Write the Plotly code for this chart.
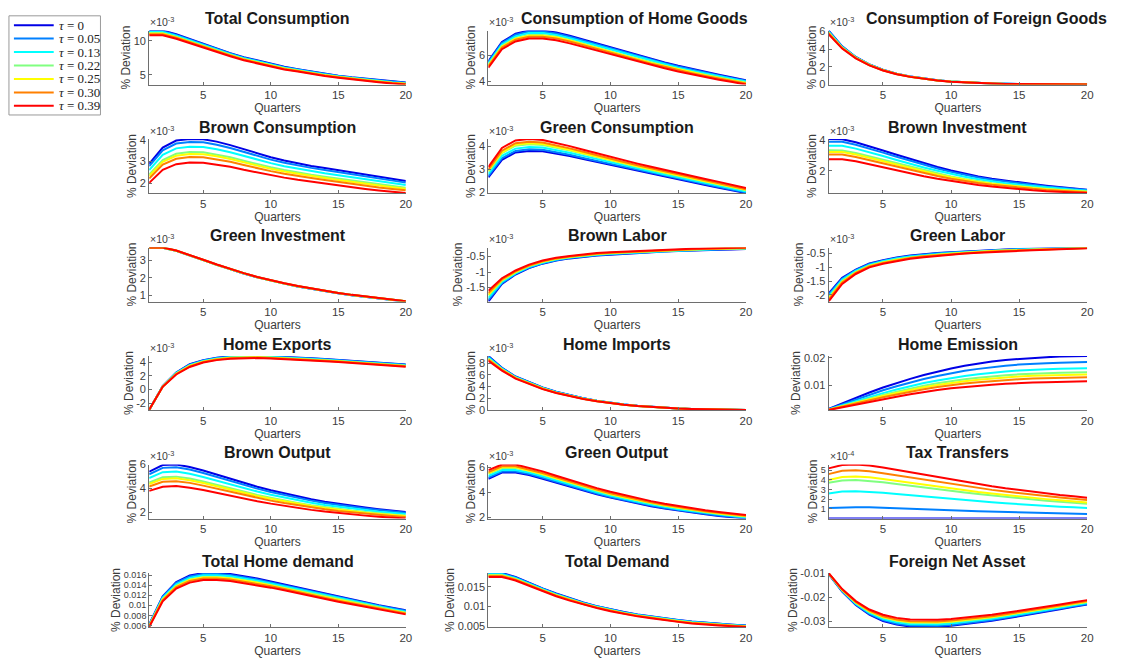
import plotly.graph_objects as go

QUARTERS = list(range(1, 21))
TAU = ["0", "0.05", "0.13", "0.22", "0.25", "0.30", "0.39"]
COLORS = ["#0000e6", "#0080ff", "#00ffff", "#80ff80", "#ffff00", "#ff8000", "#ff0000"]

# ---- data (display units; rows = tau 0 ... 0.39) ----
TOTAL_CONSUMPTION = [  # x1e-3
    [11.5, 11.5, 10.95, 10.25, 9.5, 8.8, 8.2, 7.6, 7.1, 6.6, 6.2, 5.85, 5.5, 5.2, 4.9, 4.65, 4.45, 4.25, 4.05, 3.9],
    [11.4, 11.4, 10.86, 10.17, 9.44, 8.74, 8.14, 7.54, 7.05, 6.55, 6.15, 5.8, 5.45, 5.15, 4.86, 4.61, 4.41, 4.21, 4.01, 3.86],
    [11.27, 11.27, 10.73, 10.05, 9.34, 8.64, 8.05, 7.45, 6.97, 6.47, 6.07, 5.73, 5.38, 5.08, 4.8, 4.55, 4.35, 4.15, 3.95, 3.8],
    [11.11, 11.11, 10.58, 9.91, 9.22, 8.52, 7.95, 7.35, 6.88, 6.38, 5.98, 5.65, 5.3, 5.0, 4.73, 4.48, 4.28, 4.08, 3.88, 3.73],
    [11.06, 11.06, 10.53, 9.86, 9.18, 8.48, 7.91, 7.31, 6.84, 6.34, 5.94, 5.63, 5.28, 4.98, 4.71, 4.46, 4.26, 4.06, 3.86, 3.71],
    [10.97, 10.97, 10.45, 9.79, 9.12, 8.42, 7.85, 7.25, 6.79, 6.29, 5.89, 5.58, 5.23, 4.93, 4.67, 4.42, 4.22, 4.02, 3.82, 3.67],
    [10.8, 10.8, 10.3, 9.65, 9.0, 8.3, 7.75, 7.15, 6.7, 6.2, 5.8, 5.5, 5.15, 4.85, 4.6, 4.35, 4.15, 3.95, 3.75, 3.6],
]
CONS_HOME_GOODS = [  # x1e-3
    [5.55, 7.05, 7.7, 7.95, 7.95, 7.8, 7.55, 7.25, 6.95, 6.62, 6.32, 6.02, 5.74, 5.47, 5.2, 4.95, 4.72, 4.5, 4.29, 4.08],
    [5.49, 6.98, 7.62, 7.87, 7.87, 7.72, 7.47, 7.17, 6.88, 6.55, 6.25, 5.96, 5.68, 5.41, 5.14, 4.9, 4.67, 4.45, 4.24, 4.04],
    [5.39, 6.87, 7.5, 7.75, 7.75, 7.6, 7.35, 7.06, 6.77, 6.44, 6.15, 5.86, 5.58, 5.32, 5.05, 4.81, 4.59, 4.37, 4.17, 3.97],
    [5.27, 6.74, 7.36, 7.6, 7.6, 7.46, 7.21, 6.93, 6.64, 6.32, 6.03, 5.74, 5.47, 5.21, 4.95, 4.71, 4.5, 4.29, 4.09, 3.89],
    [5.23, 6.7, 7.32, 7.55, 7.55, 7.42, 7.17, 6.88, 6.59, 6.27, 5.99, 5.7, 5.43, 5.18, 4.92, 4.68, 4.46, 4.26, 4.06, 3.86],
    [5.17, 6.63, 7.24, 7.47, 7.47, 7.34, 7.09, 6.8, 6.52, 6.21, 5.92, 5.64, 5.37, 5.12, 4.86, 4.63, 4.41, 4.21, 4.01, 3.82],
    [5.05, 6.5, 7.1, 7.33, 7.33, 7.2, 6.95, 6.67, 6.39, 6.08, 5.8, 5.52, 5.26, 5.01, 4.76, 4.53, 4.32, 4.12, 3.93, 3.74],
]
CONS_FOREIGN_GOODS = [  # x1e-3
    [6.1, 4.3, 3.1, 2.25, 1.65, 1.2, 0.88, 0.63, 0.45, 0.32, 0.22, 0.15, 0.09, 0.05, 0.02, 0.0, -0.01, -0.02, -0.03, -0.03],
    [6.05, 4.27, 3.08, 2.24, 1.64, 1.19, 0.87, 0.63, 0.45, 0.32, 0.22, 0.15, 0.09, 0.05, 0.02, 0.0, -0.01, -0.02, -0.03, -0.03],
    [5.97, 4.22, 3.05, 2.22, 1.62, 1.18, 0.87, 0.62, 0.44, 0.31, 0.21, 0.14, 0.09, 0.05, 0.02, 0.0, -0.01, -0.02, -0.03, -0.03],
    [5.88, 4.16, 3.02, 2.19, 1.61, 1.17, 0.86, 0.61, 0.44, 0.31, 0.21, 0.14, 0.08, 0.04, 0.02, 0.0, -0.01, -0.02, -0.02, -0.03],
    [5.84, 4.14, 3.0, 2.19, 1.6, 1.17, 0.85, 0.61, 0.44, 0.31, 0.21, 0.14, 0.08, 0.04, 0.02, 0.0, -0.01, -0.02, -0.02, -0.03],
    [5.79, 4.11, 2.98, 2.17, 1.59, 1.16, 0.85, 0.61, 0.43, 0.3, 0.2, 0.13, 0.08, 0.04, 0.02, 0.0, -0.01, -0.02, -0.02, -0.03],
    [5.7, 4.05, 2.95, 2.15, 1.57, 1.15, 0.84, 0.6, 0.43, 0.3, 0.2, 0.13, 0.08, 0.04, 0.02, 0.0, -0.01, -0.02, -0.02, -0.03],
]
BROWN_CONSUMPTION = [  # x1e-3
    [2.9, 3.65, 3.97, 4.04, 4.03, 3.92, 3.76, 3.57, 3.38, 3.2, 3.05, 2.92, 2.8, 2.7, 2.6, 2.5, 2.4, 2.3, 2.2, 2.1],
    [2.79, 3.52, 3.83, 3.9, 3.89, 3.78, 3.63, 3.45, 3.26, 3.09, 2.95, 2.82, 2.71, 2.61, 2.51, 2.41, 2.31, 2.22, 2.12, 2.03],
    [2.61, 3.31, 3.61, 3.68, 3.67, 3.57, 3.43, 3.26, 3.09, 2.93, 2.79, 2.67, 2.56, 2.46, 2.37, 2.28, 2.18, 2.09, 2.0, 1.92],
    [2.41, 3.07, 3.36, 3.44, 3.43, 3.33, 3.2, 3.04, 2.88, 2.74, 2.61, 2.49, 2.39, 2.3, 2.21, 2.12, 2.03, 1.95, 1.86, 1.79],
    [2.34, 2.99, 3.27, 3.35, 3.34, 3.25, 3.12, 2.96, 2.81, 2.67, 2.54, 2.43, 2.33, 2.24, 2.15, 2.06, 1.98, 1.9, 1.82, 1.75],
    [2.22, 2.86, 3.13, 3.21, 3.2, 3.11, 2.99, 2.84, 2.69, 2.56, 2.44, 2.33, 2.24, 2.15, 2.06, 1.98, 1.89, 1.81, 1.74, 1.68],
    [2.02, 2.62, 2.88, 2.96, 2.95, 2.87, 2.76, 2.62, 2.49, 2.37, 2.26, 2.16, 2.07, 1.98, 1.9, 1.82, 1.74, 1.67, 1.6, 1.55],
]
GREEN_CONSUMPTION = [  # x1e-3
    [2.65, 3.42, 3.74, 3.81, 3.79, 3.7, 3.58, 3.45, 3.32, 3.19, 3.06, 2.93, 2.8, 2.67, 2.55, 2.43, 2.31, 2.19, 2.07, 1.96],
    [2.71, 3.49, 3.81, 3.88, 3.86, 3.76, 3.64, 3.5, 3.37, 3.24, 3.1, 2.97, 2.84, 2.71, 2.59, 2.47, 2.35, 2.22, 2.1, 1.99],
    [2.8, 3.59, 3.91, 3.98, 3.96, 3.86, 3.73, 3.59, 3.45, 3.31, 3.17, 3.04, 2.9, 2.77, 2.65, 2.52, 2.4, 2.28, 2.15, 2.03],
    [2.9, 3.71, 4.04, 4.1, 4.07, 3.96, 3.83, 3.68, 3.53, 3.39, 3.25, 3.11, 2.97, 2.84, 2.71, 2.59, 2.46, 2.34, 2.2, 2.08],
    [2.94, 3.75, 4.08, 4.14, 4.11, 4.0, 3.86, 3.71, 3.56, 3.42, 3.28, 3.13, 3.0, 2.86, 2.74, 2.61, 2.48, 2.36, 2.22, 2.1],
    [3.0, 3.82, 4.15, 4.21, 4.18, 4.06, 3.92, 3.77, 3.61, 3.47, 3.32, 3.18, 3.04, 2.9, 2.77, 2.65, 2.52, 2.39, 2.25, 2.13],
    [3.1, 3.94, 4.27, 4.33, 4.29, 4.17, 4.02, 3.86, 3.7, 3.55, 3.4, 3.25, 3.11, 2.97, 2.84, 2.71, 2.58, 2.45, 2.31, 2.18],
]
BROWN_INVESTMENT = [  # x1e-3
    [4.06, 4.05, 3.85, 3.6, 3.32, 3.04, 2.76, 2.5, 2.25, 2.02, 1.82, 1.64, 1.49, 1.36, 1.25, 1.14, 1.04, 0.95, 0.86, 0.78],
    [3.89, 3.88, 3.69, 3.45, 3.18, 2.91, 2.64, 2.39, 2.15, 1.93, 1.74, 1.57, 1.42, 1.3, 1.19, 1.09, 0.99, 0.91, 0.82, 0.75],
    [3.63, 3.62, 3.44, 3.21, 2.96, 2.7, 2.45, 2.22, 2.0, 1.79, 1.62, 1.46, 1.32, 1.2, 1.1, 1.01, 0.92, 0.84, 0.77, 0.71],
    [3.33, 3.32, 3.16, 2.94, 2.7, 2.47, 2.24, 2.02, 1.82, 1.63, 1.47, 1.33, 1.2, 1.1, 1.0, 0.92, 0.84, 0.77, 0.71, 0.66],
    [3.22, 3.22, 3.06, 2.84, 2.62, 2.39, 2.16, 1.96, 1.76, 1.58, 1.42, 1.28, 1.16, 1.06, 0.97, 0.88, 0.81, 0.75, 0.69, 0.64],
    [3.05, 3.05, 2.9, 2.69, 2.47, 2.25, 2.04, 1.85, 1.66, 1.49, 1.34, 1.21, 1.1, 1.0, 0.91, 0.83, 0.76, 0.7, 0.65, 0.61],
    [2.75, 2.75, 2.62, 2.42, 2.22, 2.02, 1.83, 1.65, 1.48, 1.33, 1.2, 1.08, 0.98, 0.89, 0.81, 0.74, 0.68, 0.63, 0.59, 0.56],
]
GREEN_INVESTMENT = [  # x1e-3
    [3.71, 3.71, 3.54, 3.29, 3.01, 2.74, 2.48, 2.25, 2.03, 1.84, 1.67, 1.51, 1.37, 1.25, 1.12, 1.01, 0.91, 0.82, 0.73, 0.65],
    [3.71, 3.71, 3.54, 3.29, 3.01, 2.74, 2.48, 2.25, 2.03, 1.84, 1.67, 1.51, 1.37, 1.25, 1.12, 1.01, 0.91, 0.82, 0.73, 0.65],
    [3.72, 3.72, 3.55, 3.3, 3.02, 2.75, 2.49, 2.26, 2.04, 1.85, 1.68, 1.52, 1.38, 1.26, 1.13, 1.02, 0.92, 0.83, 0.74, 0.66],
    [3.72, 3.72, 3.55, 3.3, 3.02, 2.75, 2.49, 2.26, 2.04, 1.85, 1.68, 1.52, 1.38, 1.26, 1.13, 1.02, 0.92, 0.83, 0.74, 0.66],
    [3.72, 3.72, 3.55, 3.3, 3.02, 2.75, 2.49, 2.26, 2.04, 1.85, 1.68, 1.52, 1.38, 1.26, 1.13, 1.02, 0.92, 0.83, 0.74, 0.66],
    [3.73, 3.73, 3.56, 3.31, 3.03, 2.76, 2.5, 2.27, 2.05, 1.86, 1.69, 1.53, 1.39, 1.27, 1.14, 1.03, 0.93, 0.84, 0.75, 0.67],
    [3.73, 3.73, 3.56, 3.31, 3.03, 2.76, 2.5, 2.27, 2.05, 1.86, 1.69, 1.53, 1.39, 1.27, 1.14, 1.03, 0.93, 0.84, 0.75, 0.67],
]
BROWN_LABOR = [  # x1e-3
    [-1.95, -1.38, -1.08, -0.87, -0.73, -0.63, -0.56, -0.51, -0.47, -0.44, -0.41, -0.38, -0.36, -0.34, -0.32, -0.3, -0.29, -0.28, -0.27, -0.26],
    [-1.9, -1.36, -1.06, -0.86, -0.72, -0.62, -0.55, -0.5, -0.46, -0.43, -0.4, -0.37, -0.35, -0.33, -0.31, -0.29, -0.28, -0.27, -0.26, -0.25],
    [-1.83, -1.32, -1.04, -0.83, -0.7, -0.6, -0.53, -0.48, -0.44, -0.41, -0.39, -0.36, -0.34, -0.32, -0.3, -0.28, -0.27, -0.26, -0.25, -0.24],
    [-1.75, -1.28, -1.01, -0.81, -0.67, -0.58, -0.52, -0.47, -0.43, -0.4, -0.37, -0.34, -0.32, -0.3, -0.29, -0.27, -0.26, -0.25, -0.24, -0.23],
    [-1.73, -1.26, -1.0, -0.8, -0.67, -0.57, -0.51, -0.46, -0.42, -0.39, -0.37, -0.34, -0.32, -0.3, -0.28, -0.27, -0.26, -0.25, -0.24, -0.23],
    [-1.68, -1.24, -0.98, -0.79, -0.65, -0.56, -0.5, -0.45, -0.41, -0.38, -0.36, -0.33, -0.31, -0.29, -0.27, -0.26, -0.25, -0.24, -0.23, -0.22],
    [-1.6, -1.2, -0.95, -0.76, -0.63, -0.54, -0.48, -0.43, -0.39, -0.36, -0.34, -0.31, -0.29, -0.27, -0.26, -0.25, -0.24, -0.23, -0.22, -0.21],
]
GREEN_LABOR = [  # x1e-3
    [-1.95, -1.38, -1.08, -0.86, -0.74, -0.64, -0.57, -0.52, -0.48, -0.45, -0.42, -0.39, -0.37, -0.35, -0.33, -0.32, -0.31, -0.3, -0.29, -0.28],
    [-1.99, -1.41, -1.1, -0.88, -0.76, -0.66, -0.59, -0.53, -0.49, -0.46, -0.43, -0.4, -0.38, -0.36, -0.34, -0.33, -0.32, -0.31, -0.29, -0.28],
    [-2.05, -1.45, -1.13, -0.91, -0.78, -0.68, -0.61, -0.56, -0.51, -0.48, -0.45, -0.42, -0.39, -0.37, -0.35, -0.34, -0.33, -0.31, -0.3, -0.29],
    [-2.11, -1.5, -1.17, -0.94, -0.81, -0.71, -0.64, -0.58, -0.54, -0.5, -0.46, -0.43, -0.41, -0.39, -0.37, -0.35, -0.34, -0.32, -0.31, -0.3],
    [-2.14, -1.52, -1.18, -0.95, -0.82, -0.72, -0.65, -0.59, -0.54, -0.51, -0.47, -0.44, -0.41, -0.39, -0.37, -0.36, -0.34, -0.33, -0.31, -0.3],
    [-2.17, -1.55, -1.2, -0.97, -0.84, -0.74, -0.66, -0.6, -0.56, -0.52, -0.48, -0.45, -0.42, -0.4, -0.38, -0.37, -0.35, -0.33, -0.31, -0.3],
    [-2.24, -1.6, -1.24, -1.0, -0.87, -0.77, -0.69, -0.63, -0.58, -0.54, -0.5, -0.47, -0.44, -0.42, -0.4, -0.38, -0.36, -0.34, -0.32, -0.31],
]
HOME_EXPORTS = [  # x1e-3
    [-3.0, 0.5, 2.5, 3.7, 4.3, 4.65, 4.85, 4.9, 4.9, 4.85, 4.78, 4.68, 4.57, 4.45, 4.33, 4.2, 4.07, 3.93, 3.8, 3.65],
    [-2.99, 0.49, 2.46, 3.65, 4.25, 4.6, 4.8, 4.86, 4.86, 4.81, 4.74, 4.64, 4.53, 4.41, 4.29, 4.16, 4.03, 3.89, 3.76, 3.61],
    [-2.98, 0.47, 2.4, 3.57, 4.18, 4.53, 4.73, 4.8, 4.8, 4.75, 4.68, 4.58, 4.47, 4.35, 4.23, 4.1, 3.97, 3.83, 3.69, 3.54],
    [-2.97, 0.44, 2.33, 3.48, 4.1, 4.45, 4.65, 4.73, 4.73, 4.68, 4.61, 4.51, 4.4, 4.28, 4.16, 4.03, 3.9, 3.76, 3.62, 3.47],
    [-2.97, 0.44, 2.31, 3.44, 4.08, 4.43, 4.63, 4.71, 4.71, 4.66, 4.58, 4.48, 4.37, 4.25, 4.13, 4.0, 3.87, 3.73, 3.6, 3.45],
    [-2.96, 0.42, 2.27, 3.39, 4.03, 4.38, 4.58, 4.67, 4.67, 4.62, 4.54, 4.44, 4.33, 4.21, 4.09, 3.96, 3.83, 3.69, 3.55, 3.4],
    [-2.95, 0.4, 2.2, 3.3, 3.95, 4.3, 4.5, 4.6, 4.6, 4.55, 4.47, 4.37, 4.26, 4.14, 4.02, 3.89, 3.76, 3.62, 3.48, 3.33],
]
HOME_IMPORTS = [  # x1e-3
    [9.2, 7.2, 5.7, 4.75, 3.85, 3.1, 2.5, 2.0, 1.58, 1.22, 0.94, 0.71, 0.53, 0.38, 0.27, 0.18, 0.11, 0.06, 0.02, 0.0],
    [9.1, 7.14, 5.66, 4.7, 3.81, 3.07, 2.48, 1.98, 1.57, 1.21, 0.93, 0.7, 0.52, 0.38, 0.27, 0.18, 0.11, 0.06, 0.02, 0.0],
    [8.94, 7.04, 5.58, 4.63, 3.75, 3.03, 2.44, 1.95, 1.54, 1.19, 0.92, 0.69, 0.52, 0.37, 0.26, 0.17, 0.11, 0.06, 0.02, 0.0],
    [8.75, 6.92, 5.5, 4.55, 3.68, 2.98, 2.4, 1.92, 1.52, 1.18, 0.9, 0.68, 0.51, 0.36, 0.25, 0.17, 0.1, 0.05, 0.02, 0.0],
    [8.69, 6.88, 5.48, 4.53, 3.66, 2.96, 2.38, 1.91, 1.51, 1.17, 0.9, 0.68, 0.5, 0.36, 0.25, 0.17, 0.1, 0.05, 0.02, -0.01],
    [8.58, 6.82, 5.43, 4.48, 3.62, 2.93, 2.36, 1.89, 1.49, 1.16, 0.89, 0.67, 0.5, 0.36, 0.25, 0.16, 0.1, 0.05, 0.02, -0.01],
    [8.4, 6.7, 5.35, 4.4, 3.55, 2.88, 2.32, 1.86, 1.47, 1.14, 0.87, 0.66, 0.49, 0.35, 0.24, 0.16, 0.1, 0.05, 0.02, -0.01],
]
HOME_EMISSION = [  # in units of 1e-3 (axis shows plain values)
    [1.6, 3.6, 5.6, 7.5, 9.3, 10.9, 12.4, 13.8, 15.0, 16.1, 17.1, 17.9, 18.6, 19.2, 19.6, 20.0, 20.2, 20.4, 20.5, 20.6],
    [1.5, 3.26, 5.02, 6.71, 8.29, 9.72, 11.08, 12.34, 13.42, 14.4, 15.28, 15.98, 16.61, 17.14, 17.51, 17.86, 18.04, 18.22, 18.32, 18.42],
    [1.41, 2.93, 4.45, 5.92, 7.28, 8.55, 9.76, 10.87, 11.83, 12.69, 13.45, 14.06, 14.62, 15.07, 15.42, 15.73, 15.88, 16.03, 16.13, 16.23],
    [1.34, 2.7, 4.06, 5.39, 6.61, 7.76, 8.88, 9.9, 10.78, 11.56, 12.24, 12.78, 13.29, 13.7, 14.03, 14.3, 14.44, 14.58, 14.68, 14.78],
    [1.31, 2.58, 3.85, 5.09, 6.23, 7.32, 8.39, 9.35, 10.18, 10.92, 11.55, 12.06, 12.54, 12.92, 13.25, 13.5, 13.63, 13.76, 13.86, 13.96],
    [1.26, 2.42, 3.58, 4.73, 5.77, 6.78, 7.78, 8.68, 9.46, 10.14, 10.72, 11.18, 11.63, 11.98, 12.29, 12.52, 12.64, 12.76, 12.86, 12.96],
    [1.2, 2.2, 3.2, 4.2, 5.1, 6.0, 6.9, 7.7, 8.4, 9.0, 9.5, 9.9, 10.3, 10.6, 10.9, 11.1, 11.2, 11.3, 11.4, 11.5],
]
BROWN_OUTPUT = [  # x1e-3
    [5.4, 5.95, 6.0, 5.8, 5.5, 5.15, 4.8, 4.47, 4.15, 3.85, 3.58, 3.33, 3.1, 2.9, 2.72, 2.56, 2.42, 2.28, 2.16, 2.05],
    [5.19, 5.72, 5.77, 5.58, 5.29, 4.95, 4.62, 4.3, 3.99, 3.71, 3.45, 3.21, 2.99, 2.79, 2.62, 2.47, 2.33, 2.2, 2.08, 1.98],
    [4.87, 5.36, 5.41, 5.23, 4.96, 4.65, 4.33, 4.04, 3.75, 3.48, 3.24, 3.02, 2.81, 2.63, 2.47, 2.32, 2.2, 2.07, 1.97, 1.87],
    [4.5, 4.94, 4.99, 4.83, 4.59, 4.3, 4.01, 3.74, 3.47, 3.23, 3.0, 2.8, 2.61, 2.44, 2.29, 2.16, 2.04, 1.93, 1.83, 1.74],
    [4.38, 4.8, 4.85, 4.69, 4.46, 4.18, 3.9, 3.63, 3.38, 3.14, 2.92, 2.72, 2.54, 2.38, 2.23, 2.1, 1.98, 1.88, 1.78, 1.7],
    [4.17, 4.56, 4.61, 4.47, 4.24, 3.98, 3.71, 3.46, 3.22, 2.99, 2.79, 2.6, 2.42, 2.27, 2.13, 2.01, 1.9, 1.79, 1.71, 1.63],
    [3.8, 4.15, 4.2, 4.07, 3.87, 3.63, 3.39, 3.16, 2.94, 2.74, 2.55, 2.38, 2.22, 2.08, 1.95, 1.84, 1.74, 1.65, 1.57, 1.5],
]
GREEN_OUTPUT = [  # x1e-3
    [5.1, 5.6, 5.6, 5.4, 5.1, 4.78, 4.46, 4.15, 3.86, 3.58, 3.33, 3.1, 2.89, 2.7, 2.53, 2.38, 2.24, 2.11, 2.0, 1.9],
    [5.19, 5.68, 5.68, 5.48, 5.18, 4.85, 4.53, 4.22, 3.92, 3.64, 3.39, 3.16, 2.94, 2.75, 2.58, 2.43, 2.28, 2.15, 2.04, 1.94],
    [5.33, 5.81, 5.81, 5.6, 5.3, 4.97, 4.64, 4.32, 4.02, 3.74, 3.48, 3.24, 3.03, 2.83, 2.65, 2.5, 2.35, 2.22, 2.1, 1.99],
    [5.49, 5.96, 5.96, 5.74, 5.44, 5.1, 4.76, 4.44, 4.13, 3.84, 3.58, 3.34, 3.12, 2.92, 2.74, 2.58, 2.42, 2.29, 2.17, 2.06],
    [5.55, 6.02, 6.02, 5.78, 5.48, 5.14, 4.81, 4.48, 4.17, 3.88, 3.62, 3.38, 3.15, 2.95, 2.77, 2.6, 2.45, 2.31, 2.19, 2.08],
    [5.64, 6.1, 6.1, 5.86, 5.56, 5.22, 4.88, 4.55, 4.24, 3.94, 3.68, 3.43, 3.21, 3.0, 2.81, 2.65, 2.49, 2.36, 2.23, 2.12],
    [5.8, 6.25, 6.25, 6.0, 5.7, 5.35, 5.0, 4.67, 4.35, 4.05, 3.78, 3.53, 3.3, 3.09, 2.9, 2.73, 2.57, 2.43, 2.3, 2.18],
]
TAX_TRANSFERS = [  # x1e-4
    [0.0] * 20,
    [1.1, 1.17, 1.18, 1.16, 1.12, 1.07, 1.01, 0.96, 0.9, 0.85, 0.8, 0.75, 0.71, 0.66, 0.62, 0.59, 0.55, 0.52, 0.49, 0.46],
    [2.6, 2.8, 2.83, 2.78, 2.67, 2.54, 2.41, 2.28, 2.15, 2.02, 1.9, 1.79, 1.68, 1.58, 1.48, 1.39, 1.31, 1.23, 1.16, 1.09],
    [3.7, 3.95, 4.0, 3.92, 3.77, 3.59, 3.4, 3.21, 3.03, 2.86, 2.69, 2.53, 2.38, 2.24, 2.1, 1.97, 1.85, 1.74, 1.64, 1.54],
    [4.0, 4.3, 4.35, 4.27, 4.1, 3.9, 3.7, 3.5, 3.3, 3.11, 2.93, 2.75, 2.59, 2.43, 2.28, 2.14, 2.01, 1.89, 1.78, 1.67],
    [4.6, 4.95, 5.0, 4.9, 4.7, 4.48, 4.25, 4.02, 3.79, 3.57, 3.36, 3.16, 2.97, 2.79, 2.62, 2.46, 2.31, 2.17, 2.04, 1.92],
    [5.2, 5.55, 5.6, 5.5, 5.3, 5.05, 4.8, 4.55, 4.3, 4.05, 3.8, 3.57, 3.35, 3.14, 2.95, 2.77, 2.6, 2.44, 2.3, 2.15],
]
TOTAL_HOME_DEMAND = [  # in units of 1e-3 (axis shows plain values)
    [6.2, 11.8, 14.6, 15.9, 16.4, 16.4, 16.2, 15.8, 15.3, 14.7, 14.1, 13.5, 12.9, 12.3, 11.7, 11.1, 10.5, 10.0, 9.5, 9.0],
    [6.14, 11.67, 14.43, 15.72, 16.22, 16.22, 16.02, 15.62, 15.13, 14.54, 13.96, 13.36, 12.76, 12.17, 11.57, 10.98, 10.4, 9.9, 9.4, 8.9],
    [6.04, 11.47, 14.17, 15.44, 15.94, 15.94, 15.74, 15.34, 14.87, 14.3, 13.74, 13.14, 12.54, 11.97, 11.37, 10.8, 10.24, 9.74, 9.24, 8.74],
    [5.92, 11.24, 13.87, 15.12, 15.62, 15.62, 15.42, 15.02, 14.57, 14.03, 13.48, 12.88, 12.28, 11.74, 11.14, 10.6, 10.05, 9.55, 9.05, 8.55],
    [5.88, 11.16, 13.77, 15.0, 15.5, 15.5, 15.3, 14.9, 14.47, 13.93, 13.4, 12.8, 12.2, 11.66, 11.06, 10.52, 9.99, 9.49, 8.99, 8.49],
    [5.82, 11.03, 13.6, 14.82, 15.32, 15.32, 15.12, 14.72, 14.3, 13.78, 13.25, 12.65, 12.05, 11.53, 10.93, 10.41, 9.88, 9.38, 8.88, 8.38],
    [5.7, 10.8, 13.3, 14.5, 15.0, 15.0, 14.8, 14.4, 14.0, 13.5, 13.0, 12.4, 11.8, 11.3, 10.7, 10.2, 9.7, 9.2, 8.7, 8.2],
]
TOTAL_DEMAND = [  # in units of 1e-3 (axis shows plain values)
    [18.5, 18.5, 17.5, 16.0, 14.6, 13.3, 12.1, 11.0, 10.1, 9.3, 8.6, 8.0, 7.5, 7.0, 6.6, 6.2, 5.9, 5.6, 5.4, 5.2],
    [18.37, 18.37, 17.38, 15.9, 14.51, 13.21, 12.02, 10.94, 10.04, 9.24, 8.54, 7.94, 7.44, 6.94, 6.54, 6.14, 5.84, 5.55, 5.35, 5.15],
    [18.17, 18.17, 17.2, 15.74, 14.37, 13.07, 11.9, 10.84, 9.94, 9.14, 8.44, 7.84, 7.34, 6.84, 6.44, 6.04, 5.74, 5.47, 5.27, 5.07],
    [17.94, 17.94, 17.0, 15.55, 14.21, 12.91, 11.76, 10.72, 9.82, 9.02, 8.32, 7.72, 7.22, 6.72, 6.32, 5.92, 5.62, 5.38, 5.18, 4.98],
    [17.86, 17.86, 16.92, 15.49, 14.15, 12.85, 11.72, 10.68, 9.78, 8.98, 8.28, 7.68, 7.18, 6.68, 6.28, 5.88, 5.58, 5.34, 5.14, 4.94],
    [17.73, 17.73, 16.81, 15.38, 14.06, 12.76, 11.64, 10.62, 9.72, 8.92, 8.22, 7.62, 7.12, 6.62, 6.22, 5.82, 5.52, 5.29, 5.09, 4.89],
    [17.5, 17.5, 16.6, 15.2, 13.9, 12.6, 11.5, 10.5, 9.6, 8.8, 8.1, 7.5, 7.0, 6.5, 6.1, 5.7, 5.4, 5.2, 5.0, 4.8],
]
FOREIGN_NET_ASSET = [  # in units of 1e-3 (axis shows plain values)
    [-10.2, -17.5, -23.1, -27.1, -29.8, -31.3, -32.1, -32.3, -32.2, -31.8, -31.2, -30.5, -29.7, -28.8, -27.9, -26.9, -25.9, -24.9, -23.9, -22.9],
    [-10.15, -17.37, -22.89, -26.83, -29.46, -30.94, -31.72, -31.92, -31.82, -31.44, -30.85, -30.16, -29.38, -28.49, -27.6, -26.61, -25.63, -24.64, -23.65, -22.67],
    [-10.07, -17.17, -22.57, -26.41, -28.94, -30.38, -31.14, -31.34, -31.24, -30.88, -30.31, -29.64, -28.88, -28.01, -27.14, -26.17, -25.21, -24.24, -23.27, -22.31],
    [-9.98, -16.94, -22.2, -25.92, -28.34, -29.73, -30.48, -30.68, -30.58, -30.23, -29.69, -29.04, -28.3, -27.46, -26.61, -25.67, -24.72, -23.78, -22.84, -21.89],
    [-9.94, -16.86, -22.08, -25.76, -28.14, -29.51, -30.24, -30.44, -30.34, -30.01, -29.47, -28.84, -28.1, -27.26, -26.43, -25.49, -24.56, -23.62, -22.68, -21.75],
    [-9.89, -16.73, -21.87, -25.48, -27.8, -29.14, -29.87, -30.07, -29.97, -29.64, -29.12, -28.5, -27.78, -26.95, -26.13, -25.21, -24.28, -23.36, -22.44, -21.51],
    [-9.8, -16.5, -21.5, -25.0, -27.2, -28.5, -29.2, -29.4, -29.3, -29.0, -28.5, -27.9, -27.2, -26.4, -25.6, -24.7, -23.8, -22.9, -22.0, -21.1],
]

TITLES = ["Total Consumption", "Consumption of Home Goods", "Consumption of Foreign Goods",
          "Brown Consumption", "Green Consumption", "Brown Investment",
          "Green Investment", "Brown Labor", "Green Labor",
          "Home Exports", "Home Imports", "Home Emission",
          "Brown Output", "Green Output", "Tax Transfers",
          "Total Home demand", "Total Demand", "Foreign Net Asset"]
SERIES = [TOTAL_CONSUMPTION, CONS_HOME_GOODS, CONS_FOREIGN_GOODS,
          BROWN_CONSUMPTION, GREEN_CONSUMPTION, BROWN_INVESTMENT,
          GREEN_INVESTMENT, BROWN_LABOR, GREEN_LABOR,
          HOME_EXPORTS, HOME_IMPORTS, HOME_EMISSION,
          BROWN_OUTPUT, GREEN_OUTPUT, TAX_TRANSFERS,
          TOTAL_HOME_DEMAND, TOTAL_DEMAND, FOREIGN_NET_ASSET]
# axis multiplier label shown (None -> values are plotted in real units, stored x1e-3)
EXPONENTS = ["-3", "-3", "-3", "-3", "-3", "-3", "-3", "-3", "-3", "-3", "-3", None,
             "-3", "-3", "-4", None, None, None]
Y_TICKS = [[5, 10], [4, 6], [0, 2, 4, 6], [2, 3, 4], [2, 3, 4], [2, 4], [1, 2, 3],
           [-1.5, -1, -0.5], [-2, -1.5, -1, -0.5], [-2, 0, 2, 4], [0, 2, 4, 6, 8], [0.01, 0.02],
           [2, 4, 6], [2, 4, 6], [1, 2, 3, 4, 5],
           [0.006, 0.008, 0.01, 0.012, 0.014, 0.016], [0.005, 0.01, 0.015], [-0.03, -0.02, -0.01]]

# ---- layout geometry (pixels) ----
W, H = 1123, 660
COL_X = [(150, 408), (491, 750), (833, 1093)]
ROW_TOP = [25, 135.5, 246, 356.5, 467, 577.5]
AX_H = 55
TITLE_SHIFT = {1: 17, 2: 29}   # titles pushed right of the exponent label
SMALL_TICKS = {14: 9, 15: 9}   # densely ticked axes
FONT = "Liberation Sans, Arial, sans-serif"
TXT = "#3c3c3c"
AXC = "#6e6e6e"

fig = go.Figure()
layout = dict(width=W, height=H, margin=dict(l=0, r=0, t=0, b=0),
              paper_bgcolor="white", plot_bgcolor="white", showlegend=False,
              font=dict(family=FONT, size=11, color=TXT), annotations=[], shapes=[])

for i, (title, data) in enumerate(zip(TITLES, SERIES)):
    r, c = divmod(i, 3)
    k = "" if i == 0 else str(i + 1)
    factor = 1.0 if EXPONENTS[i] is not None else 1e-3
    ymin, ymax = None, None
    for s, (vals, col, lab) in enumerate(zip(data, COLORS, TAU)):
        yv = [v * factor for v in vals]
        ymin = min(yv) if ymin is None else min(ymin, min(yv))
        ymax = max(yv) if ymax is None else max(ymax, max(yv))
        fig.add_trace(go.Scatter(
            x=QUARTERS, y=yv, mode="lines", name=f"τ = {lab}",
            line=dict(color=col, width=2), legendgroup=lab,
            xaxis="x" + k, yaxis="y" + k))
    x0, x1 = COL_X[c]
    top = ROW_TOP[r]
    dom_x = [x0 / W, x1 / W]
    dom_y = [1 - (top + AX_H) / H, 1 - top / H]
    layout["xaxis" + k] = dict(
        domain=dom_x, anchor="y" + k, range=[1, 20], tickvals=[5, 10, 15, 20],
        showline=True, linecolor=AXC, linewidth=1, ticks="inside", ticklen=3,
        tickcolor=AXC, showgrid=False, zeroline=False,
        tickfont=dict(size=11.5, color=TXT),
        title=dict(text="Quarters", font=dict(size=12, color=TXT), standoff=0))
    yt = Y_TICKS[i]
    layout["yaxis" + k] = dict(
        domain=dom_y, anchor="x" + k, range=[ymin, ymax], tickvals=yt,
        ticktext=[f"{v:g}" for v in yt],
        showline=True, linecolor=AXC, linewidth=1, ticks="inside", ticklen=3,
        tickcolor=AXC, showgrid=False, zeroline=False,
        tickfont=dict(size=SMALL_TICKS.get(i, 11), color=TXT),
        title=dict(text="% Deviation", font=dict(size=12, color=TXT), standoff=0))
    cx = (x0 + x1) / 2 + TITLE_SHIFT.get(i, 0)
    layout["annotations"].append(dict(
        text=f"<b>{title}</b>", x=cx / W, y=1 - (top - 12) / H,
        xref="paper", yref="paper", xanchor="center", yanchor="middle",
        showarrow=False, font=dict(size=16, color="#1a1a1a", family=FONT)))
    if EXPONENTS[i] is not None:
        layout["annotations"].append(dict(
            text=f"×10<sup>{EXPONENTS[i]}</sup>", x=(x0 - 1) / W, y=1 - (top - 9) / H,
            xref="paper", yref="paper", xanchor="left", yanchor="middle",
            showarrow=False, font=dict(size=10.5, color=TXT, family=FONT)))

# ---- legend box (compact, MATLAB-style) ----
LEG_BOX = (9, 10, 101, 111)
LEG_Y0, LEG_DY = 19.5, 13.7
layout["shapes"].append(dict(type="rect", xref="paper", yref="paper",
                             x0=LEG_BOX[0] / W, x1=LEG_BOX[2] / W,
                             y0=1 - LEG_BOX[3] / H, y1=1 - LEG_BOX[1] / H,
                             line=dict(color="#9a9a9a", width=1), fillcolor="white"))
for s, (col, lab) in enumerate(zip(COLORS, TAU)):
    yy = 1 - (LEG_Y0 + s * LEG_DY) / H
    layout["shapes"].append(dict(type="line", xref="paper", yref="paper",
                                 x0=14 / W, x1=54 / W, y0=yy, y1=yy,
                                 line=dict(color=col, width=2)))
    layout["annotations"].append(dict(
        text=f"<i>τ</i> = {lab}", x=57 / W, y=yy, xref="paper", yref="paper",
        xanchor="left", yanchor="middle", showarrow=False,
        font=dict(family="Liberation Serif, serif", size=13, color="#222")))

fig.update_layout(**layout)
fig.write_html("out.html")
